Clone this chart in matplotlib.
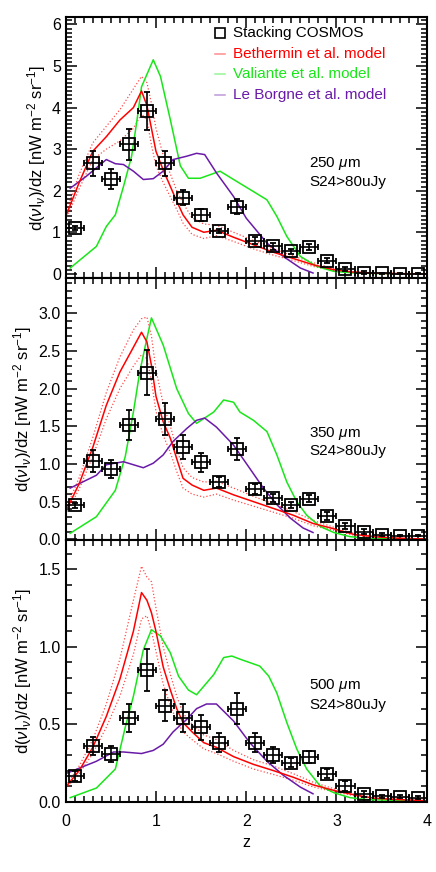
import numpy as np
import matplotlib
matplotlib.use('Agg')
import matplotlib.pyplot as plt
from matplotlib.ticker import MultipleLocator

plt.rcParams['font.family'] = ['Liberation Sans', 'DejaVu Sans']
plt.rcParams['mathtext.fontset'] = 'custom'
plt.rcParams['mathtext.rm'] = 'Liberation Sans'
plt.rcParams['mathtext.it'] = 'Liberation Sans:italic'
plt.rcParams['font.size'] = 11

# stacking points (same z bins in every band)
z_stack = [0.1, 0.3, 0.5, 0.7, 0.9, 1.1, 1.3, 1.5, 1.7, 1.9,
           2.1, 2.3, 2.5, 2.7, 2.9, 3.1, 3.3, 3.5, 3.7, 3.9]
zerr_stack = 0.1

stack_250 = [1.1, 2.66, 2.28, 3.12, 3.91, 2.66, 1.83, 1.42, 1.04, 1.62,
             0.8, 0.66, 0.54, 0.64, 0.32, 0.11, 0.03, 0.01, 0.0, 0.0]
err_250 = [0.05, 0.3, 0.25, 0.37, 0.46, 0.3, 0.18, 0.15, 0.05, 0.17,
           0.08, 0.08, 0.06, 0.07, 0.07, 0.05, 0.03, 0.02, 0.01, 0.01]

stack_350 = [0.45, 1.04, 0.93, 1.52, 2.21, 1.6, 1.22, 1.02, 0.76, 1.2,
             0.67, 0.55, 0.46, 0.54, 0.31, 0.18, 0.1, 0.06, 0.05, 0.05]
err_350 = [0.03, 0.14, 0.12, 0.2, 0.3, 0.21, 0.16, 0.12, 0.07, 0.15,
           0.07, 0.05, 0.04, 0.05, 0.05, 0.04, 0.03, 0.02, 0.01, 0.01]

stack_500 = [0.164, 0.36, 0.307, 0.54, 0.85, 0.62, 0.54, 0.48, 0.38, 0.6,
             0.38, 0.3, 0.25, 0.286, 0.18, 0.1, 0.05, 0.035, 0.03, 0.025]
err_500 = [0.03, 0.06, 0.05, 0.09, 0.135, 0.1, 0.09, 0.08, 0.06, 0.1,
           0.06, 0.05, 0.03, 0.04, 0.03, 0.03, 0.02, 0.01, 0.01, 0.01]

# Bethermin model (solid + dotted range)
z_beth = [0, 0.15, 0.3, 0.45, 0.6, 0.75, 0.84, 0.9, 0.95, 1.0, 1.08, 1.16, 1.23,
          1.3, 1.4, 1.53, 1.67, 1.86, 2.08, 2.3, 2.52, 2.74, 2.97, 3.19, 3.41, 3.7, 4.0]
beth_250 = [1.38, 2.2, 2.95, 3.3, 3.7, 4.0, 4.4, 4.05, 3.5, 2.95, 2.5, 2.1, 1.75,
            1.42, 1.12, 1.0, 1.05, 0.88, 0.7, 0.52, 0.37, 0.22, 0.1, 0.04, 0.015, 0.005, 0.0]
beth_250_hi = [1.45, 2.4, 3.15, 3.55, 3.95, 4.45, 4.75, 4.6, 4.1, 3.5, 2.85, 2.4, 2.0,
               1.7, 1.35, 1.2, 1.17, 1.0, 0.8, 0.6, 0.43, 0.27, 0.13, 0.05, 0.02, 0.008, 0.0]
beth_250_lo = [1.3, 2.05, 2.75, 3.0, 3.2, 3.5, 3.85, 3.7, 3.1, 2.6, 2.2, 1.85, 1.55,
               1.22, 0.95, 0.85, 0.92, 0.78, 0.6, 0.45, 0.32, 0.18, 0.08, 0.03, 0.01, 0.003, 0.0]

beth_350 = [0.37, 0.74, 1.22, 1.78, 2.22, 2.55, 2.75, 2.62, 2.31, 1.9, 1.56, 1.34, 1.07,
            0.81, 0.72, 0.65, 0.68, 0.59, 0.5, 0.41, 0.32, 0.21, 0.14, 0.066, 0.035, 0.013, 0.003]
beth_350_hi = [0.4, 0.82, 1.35, 1.95, 2.42, 2.78, 2.93, 2.95, 2.7, 2.25, 1.8, 1.5, 1.2,
               0.95, 0.82, 0.76, 0.77, 0.68, 0.57, 0.47, 0.37, 0.25, 0.16, 0.08, 0.04, 0.015, 0.004]
beth_350_lo = [0.33, 0.67, 1.1, 1.6, 2.0, 2.3, 2.45, 2.4, 2.1, 1.7, 1.38, 1.15, 0.9,
               0.68, 0.6, 0.56, 0.6, 0.52, 0.44, 0.36, 0.28, 0.18, 0.12, 0.055, 0.03, 0.011, 0.002]

beth_500 = [0.093, 0.2, 0.35, 0.55, 0.79, 1.1, 1.35, 1.3, 1.22, 1.1, 0.87, 0.72, 0.6,
            0.51, 0.45, 0.38, 0.35, 0.29, 0.24, 0.2, 0.157, 0.108, 0.072, 0.044, 0.022, 0.012, 0.005]
beth_500_hi = [0.1, 0.23, 0.4, 0.63, 0.92, 1.3, 1.52, 1.45, 1.42, 1.25, 1.0, 0.82, 0.68,
               0.57, 0.5, 0.43, 0.4, 0.33, 0.27, 0.23, 0.18, 0.125, 0.083, 0.05, 0.026, 0.014, 0.006]
beth_500_lo = [0.085, 0.18, 0.31, 0.48, 0.68, 0.95, 1.18, 1.2, 1.1, 0.97, 0.76, 0.62, 0.52,
               0.45, 0.4, 0.34, 0.31, 0.26, 0.21, 0.175, 0.138, 0.095, 0.063, 0.038, 0.019, 0.01, 0.004]

# Valiante model
z_val_250 = [0.05, 0.34, 0.45, 0.55, 0.64, 0.73, 0.79, 0.84, 0.97, 1.05, 1.16, 1.27, 1.36,
             1.49, 1.71, 1.86, 2.08, 2.23, 2.34, 2.45, 2.6, 2.78, 2.97, 3.2, 3.5, 4.0]
val_250 = [0.14, 0.66, 1.14, 1.42, 2.1, 2.83, 3.7, 4.5, 5.15, 4.75, 3.7, 2.6, 2.3,
           2.3, 2.47, 2.27, 1.98, 1.78, 1.38, 0.9, 0.42, 0.18, 0.06, 0.02, 0.005, 0.0]
z_val_350 = [0.05, 0.34, 0.55, 0.66, 0.75, 0.82, 0.9, 0.95, 1.08, 1.23, 1.36, 1.45, 1.64,
             1.75, 1.86, 1.93, 2.08, 2.23, 2.34, 2.45, 2.56, 2.67, 2.82, 2.97, 3.15, 3.34, 4.0]
val_350 = [0.08, 0.3, 0.65, 1.1, 1.69, 2.22, 2.67, 2.94, 2.58, 2.0, 1.67, 1.54, 1.69,
           1.85, 1.82, 1.69, 1.58, 1.43, 1.12, 0.76, 0.5, 0.32, 0.17, 0.09, 0.035, 0.013, 0.0]
z_val_500 = [0.05, 0.34, 0.55, 0.66, 0.75, 0.86, 0.95, 1.05, 1.16, 1.25, 1.36, 1.45, 1.64,
             1.75, 1.84, 1.93, 2.15, 2.25, 2.34, 2.45, 2.56, 2.67, 2.82, 2.97, 3.15, 3.34, 4.0]
val_500 = [0.025, 0.087, 0.21, 0.48, 0.68, 0.98, 1.11, 1.07, 0.96, 0.81, 0.72, 0.69, 0.82,
           0.93, 0.94, 0.92, 0.875, 0.81, 0.7, 0.51, 0.34, 0.21, 0.1, 0.057, 0.025, 0.012, 0.003]

# Le Borgne model
z_lb_250 = [0.05, 0.23, 0.34, 0.45, 0.55, 0.64, 0.75, 0.86, 0.97, 1.08, 1.19, 1.34, 1.45,
            1.54, 1.67, 1.86, 2.0, 2.23, 2.41, 2.6, 2.74]
lb_250 = [2.06, 2.35, 2.55, 2.75, 2.65, 2.63, 2.47, 2.27, 2.29, 2.47, 2.75, 2.83, 2.9,
          2.87, 2.43, 1.86, 1.34, 0.74, 0.42, 0.14, 0.02]
z_lb_350 = [0.05, 0.34, 0.45, 0.64, 0.75, 0.86, 0.97, 1.08, 1.19, 1.34, 1.45, 1.54, 1.67,
            1.86, 2.04, 2.19, 2.34, 2.49, 2.63, 2.74]
lb_350 = [0.68, 0.85, 0.99, 1.03, 0.99, 0.95, 1.01, 1.12, 1.3, 1.47, 1.58, 1.61, 1.49,
          1.25, 0.94, 0.68, 0.46, 0.28, 0.15, 0.09]
z_lb_500 = [0.0, 0.34, 0.53, 0.64, 0.84, 0.97, 1.08, 1.19, 1.34, 1.45, 1.56, 1.67, 1.86,
            2.04, 2.23, 2.41, 2.6, 2.74]
lb_500 = [0.18, 0.26, 0.32, 0.32, 0.31, 0.33, 0.37, 0.45, 0.53, 0.6, 0.63, 0.63, 0.52,
          0.38, 0.26, 0.17, 0.093, 0.05]

red = '#ff0000'
green = '#19e619'
purple = '#6a1aa8'

panels = [
    dict(stack=stack_250, err=err_250, beth=beth_250, hi=beth_250_hi, lo=beth_250_lo,
         zv=z_val_250, val=val_250, zl=z_lb_250, lb=lb_250,
         ylim=(-0.1, 6.18), major=1, label='250 $\\mu$m', text_y=(0.437, 0.368)),
    dict(stack=stack_350, err=err_350, beth=beth_350, hi=beth_350_hi, lo=beth_350_lo,
         zv=z_val_350, val=val_350, zl=z_lb_350, lb=lb_350,
         ylim=(-0.01, 3.47), major=0.5, label='350 $\\mu$m', text_y=(0.408, 0.34)),
    dict(stack=stack_500, err=err_500, beth=beth_500, hi=beth_500_hi, lo=beth_500_lo,
         zv=z_val_500, val=val_500, zl=z_lb_500, lb=lb_500,
         ylim=(-0.003, 1.69), major=0.5, label='500 $\\mu$m', text_y=(0.443, 0.37)),
]

fig = plt.figure(figsize=(4.36, 8.72), dpi=100)
bottoms = [0.6812, 0.3807, 0.0803]
ylabel = r'd($\nu$I$_{\nu}$)/dz [nW m$^{-2}$ sr$^{-1}$]'

for i, p in enumerate(panels):
    ax = fig.add_axes([0.1507, bottoms[i], 0.828, 0.3005 if i else 0.2993])

    ax.plot(z_beth, p['hi'], ':', color=red, lw=0.9, alpha=0.7)
    ax.plot(z_beth, p['lo'], ':', color=red, lw=0.9, alpha=0.7)
    ax.plot(p['zv'], p['val'], '-', color=green, lw=1.1)
    ax.plot(p['zl'], p['lb'], '-', color=purple, lw=1.1)
    ax.plot(z_beth, p['beth'], '-', color=red, lw=1.1)
    ax.errorbar(z_stack, p['stack'], xerr=zerr_stack, yerr=p['err'], fmt='s',
                mfc='none', mec='k', mew=1.3, ms=8, ecolor='k', elinewidth=1.2,
                capsize=2, capthick=1.2, zorder=5)

    ax.set_xlim(0, 4)
    ax.set_ylim(*p['ylim'])
    ax.xaxis.set_major_locator(MultipleLocator(1))
    ax.xaxis.set_minor_locator(MultipleLocator(0.1))
    ax.yaxis.set_major_locator(MultipleLocator(p['major']))
    ax.yaxis.set_minor_locator(MultipleLocator(0.1))
    ax.tick_params(which='both', direction='in', top=True, right=True, width=1.1)
    ax.tick_params(which='major', length=8, labelsize=11.5)
    ax.tick_params(which='minor', length=4)
    ax.tick_params(axis='x', pad=9)
    for s in ax.spines.values():
        s.set_linewidth(1.5)
    if i < 2:
        ax.tick_params(labelbottom=False)
    else:
        ax.set_xlabel('z', fontsize=11.5, labelpad=4)
    ax.set_ylabel(ylabel, fontsize=12, labelpad=3)

    ax.text(0.675, p['text_y'][0], p['label'], transform=ax.transAxes,
            fontsize=11, va='center', ha='left')
    ax.text(0.675, p['text_y'][1], 'S24>80uJy', transform=ax.transAxes,
            fontsize=11, va='center', ha='left')

    if i == 0:
        rows = [('Stacking COSMOS', 'k'), ('Bethermin et al. model', red),
                ('Valiante et al. model', green), ('Le Borgne et al. model', purple)]
        ys = [0.939, 0.858, 0.782, 0.701]
        for (txt, c), yy in zip(rows, ys):
            if c == 'k':
                ax.plot([0.428], [yy], 's', mfc='none', mec='k', mew=1.2, ms=7,
                        transform=ax.transAxes)
            else:
                ax.plot([0.414, 0.442], [yy, yy], '-', color=c, lw=1.1, alpha=0.45,
                        transform=ax.transAxes)
            ax.text(0.463, yy, txt, color=c, transform=ax.transAxes,
                    fontsize=11, va='center', ha='left')

fig.savefig('out.png', dpi=100)
